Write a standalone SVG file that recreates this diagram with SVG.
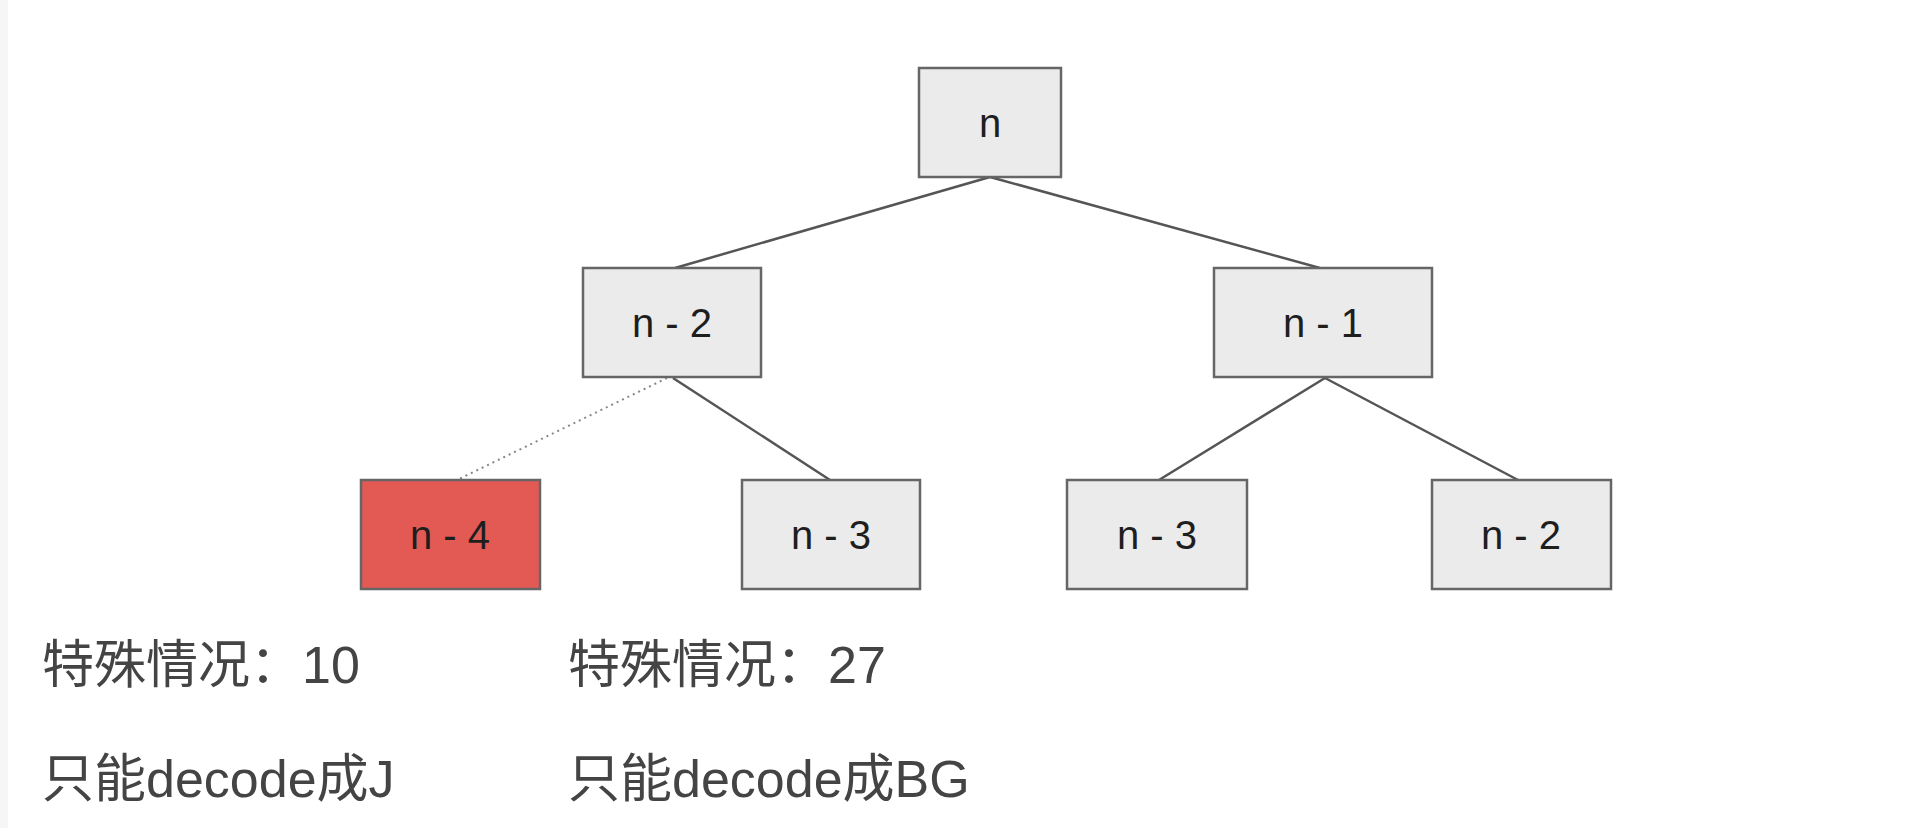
<svg xmlns="http://www.w3.org/2000/svg" width="1908" height="828" viewBox="0 0 1908 828">
<style>
.box{fill:#ebebeb;stroke:#666;stroke-width:2.5}
.red{fill:#e35a55;stroke:#666;stroke-width:2.5}
.lbl{font-family:"Liberation Sans","Arial",sans-serif;font-size:40px;fill:#1e1e1e;text-anchor:middle}
.edge{stroke:#555;stroke-width:2.5;fill:none}
.dot{stroke:#888;stroke-width:2;stroke-dasharray:2 4;fill:none}
.note{font-family:"Liberation Sans","Noto Sans CJK SC",sans-serif;font-size:52px;fill:#444}
</style>
<rect x="0" y="0" width="1908" height="828" fill="#ffffff"/>
<rect x="0" y="0" width="8" height="828" fill="#f6f6f6"/>
<g id="connectors">
<line class="edge" x1="990" y1="177" x2="675" y2="268"/>
<line class="edge" x1="990" y1="177" x2="1320" y2="268"/>
<line class="dot" x1="667" y1="378" x2="457" y2="480"/>
<line class="edge" x1="673" y1="378" x2="830" y2="480"/>
<line class="edge" x1="1325" y1="378" x2="1159" y2="480"/>
<line class="edge" x1="1325" y1="378" x2="1518" y2="480"/>
</g>
<g id="node-n">
<rect class="box" x="919" y="68" width="142" height="109"/>
<text class="lbl" x="990" y="137">n</text>
</g>
<g id="node-n-2a">
<rect class="box" x="583" y="268" width="178" height="109"/>
<text class="lbl" x="672" y="337">n - 2</text>
</g>
<g id="node-n-1">
<rect class="box" x="1214" y="268" width="218" height="109"/>
<text class="lbl" x="1323" y="337">n - 1</text>
</g>
<g id="node-n-4">
<rect class="red" x="361" y="480" width="179" height="109"/>
<text class="lbl" x="450" y="549">n - 4</text>
</g>
<g id="node-n-3a">
<rect class="box" x="742" y="480" width="178" height="109"/>
<text class="lbl" x="831" y="549">n - 3</text>
</g>
<g id="node-n-3b">
<rect class="box" x="1067" y="480" width="180" height="109"/>
<text class="lbl" x="1157" y="549">n - 3</text>
</g>
<g id="node-n-2b">
<rect class="box" x="1432" y="480" width="179" height="109"/>
<text class="lbl" x="1521" y="549">n - 2</text>
</g>
<g id="notes">
<text class="note" x="42" y="683">特殊情况：10</text>
<text class="note" x="42" y="797">只能decode成J</text>
<text class="note" x="568" y="683">特殊情况：27</text>
<text class="note" x="568" y="797">只能decode成BG</text>
</g>
</svg>
